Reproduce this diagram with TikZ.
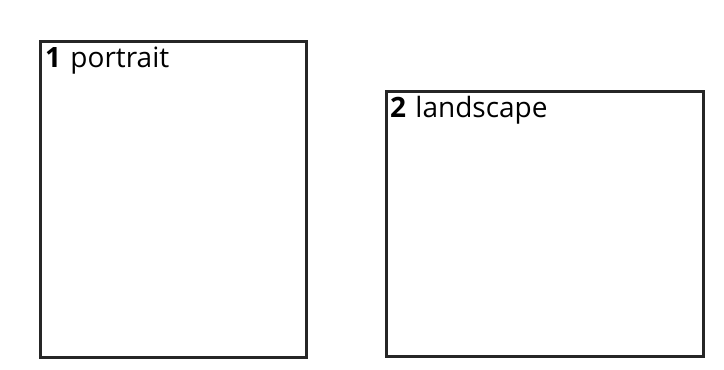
\documentclass[tikz,border=0pt]{standalone}
\usepackage{fontspec}
\setmainfont{Open Sans}
\begin{document}
\begin{tikzpicture}[x=1pt,y=1pt,
  page/.style={draw=black!85,line width=3pt},
  lbl/.style={anchor=base west,inner sep=0pt,font=\fontsize{28}{32}\selectfont}]
\useasboundingbox (0,0) rectangle (724,370);
\draw[page] (40,12) rectangle (306,328);
\draw[page] (386,13) rectangle (703,278);
\node[lbl] (l1) at (45,302.5) {\textbf{1}\hspace{2pt} portrait};
\node[lbl] (l2) at (390,252.5) {\textbf{2}\hspace{2pt} landscape};
\end{tikzpicture}
\end{document}
